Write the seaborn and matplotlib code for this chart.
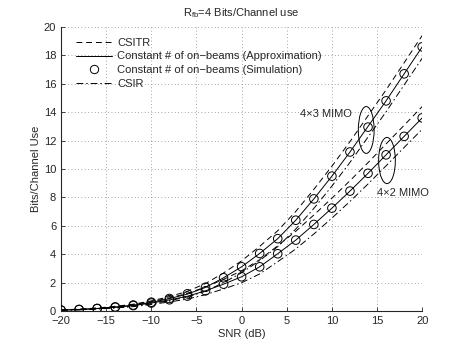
import numpy as np
import pandas as pd
import matplotlib
matplotlib.use("Agg")
import matplotlib.pyplot as plt
from matplotlib.patches import Ellipse
from matplotlib.lines import Line2D
import seaborn as sns

# ==============================================================================
# DADOS
# ==============================================================================
snr_db = [-20, -18, -16, -14, -12, -10, -8, -6, -4, -2, 0,
          2, 4, 6, 8, 10, 12, 14, 16, 18, 20]

mimo43_approx = [0.08, 0.12, 0.19, 0.29, 0.42, 0.62, 0.88, 1.20, 1.67, 2.35, 3.12,
                 4.06, 5.10, 6.40, 7.90, 9.50, 11.20, 13.00, 14.80, 16.70, 18.60]
mimo43_sim = [0.08, 0.12, 0.19, 0.30, 0.43, 0.63, 0.89, 1.22, 1.68, 2.35, 3.12,
              4.06, 5.10, 6.40, 7.90, 9.50, 11.20, 12.95, 14.80, 16.70, 18.60]
mimo43_csitr = [0.09, 0.14, 0.22, 0.34, 0.49, 0.72, 1.02, 1.40, 1.94, 2.69, 3.54,
                4.56, 5.66, 7.02, 8.57, 10.20, 11.93, 13.75, 15.57, 17.48, 19.40]
mimo43_csir = [0.07, 0.10, 0.16, 0.24, 0.35, 0.52, 0.74, 1.00, 1.40, 2.01, 2.70,
               3.56, 4.54, 5.78, 7.23, 8.80, 10.47, 12.25, 14.03, 15.92, 17.80]

mimo42_approx = [0.07, 0.11, 0.18, 0.27, 0.39, 0.57, 0.79, 1.05, 1.43, 1.90, 2.42,
                 3.12, 4.04, 5.00, 6.10, 7.25, 8.45, 9.70, 11.00, 12.30, 13.60]
mimo42_sim = [0.07, 0.11, 0.18, 0.27, 0.39, 0.57, 0.80, 1.06, 1.43, 1.90, 2.42,
              3.12, 4.04, 5.00, 6.10, 7.25, 8.45, 9.70, 11.00, 12.30, 13.60]
mimo42_csitr = [0.08, 0.13, 0.21, 0.32, 0.46, 0.67, 0.93, 1.25, 1.70, 2.24, 2.84,
                3.62, 4.60, 5.62, 6.77, 7.95, 9.18, 10.45, 11.77, 13.08, 14.40]
mimo42_csir = [0.06, 0.09, 0.15, 0.22, 0.32, 0.47, 0.65, 0.85, 1.16, 1.56, 2.00,
               2.62, 3.48, 4.38, 5.43, 6.55, 7.72, 8.95, 10.23, 11.52, 12.80]

LEG_CSITR = "CSITR"
LEG_APPROX = "Constant # of on\u2212beams (Approximation)"
LEG_SIM = "Constant # of on\u2212beams (Simulation)"
LEG_CSIR = "CSIR"

# ==============================================================================
# CONFIGURAÇÕES
# ==============================================================================
sns.set_style("ticks")
plt.rcParams['font.family'] = ['Liberation Sans', 'DejaVu Sans']
plt.rcParams['font.size'] = 8
plt.rcParams['mathtext.fontset'] = 'custom'
plt.rcParams['mathtext.rm'] = 'Liberation Sans'
plt.rcParams['xtick.direction'] = 'in'
plt.rcParams['ytick.direction'] = 'in'

DASH = (0, (6, 4))
DASHDOT = (0, (7, 3, 1.5, 3))


def monta_df():
    linhas = []
    series = [
        ("4x3", LEG_CSITR, mimo43_csitr), ("4x3", LEG_APPROX, mimo43_approx),
        ("4x3", LEG_CSIR, mimo43_csir),
        ("4x2", LEG_CSITR, mimo42_csitr), ("4x2", LEG_APPROX, mimo42_approx),
        ("4x2", LEG_CSIR, mimo42_csir),
    ]
    for cfg, tipo, vals in series:
        for x, y in zip(snr_db, vals):
            linhas.append({'SNR': x, 'Bits': y, 'Tipo': tipo, 'Cfg': cfg})
    return pd.DataFrame(linhas)


df = monta_df()
df_sim = pd.DataFrame({
    'SNR': snr_db + snr_db,
    'Bits': mimo43_sim + mimo42_sim,
    'Cfg': ['4x3'] * len(snr_db) + ['4x2'] * len(snr_db),
})

fig = plt.figure(figsize=(4.66, 3.5), dpi=100)
ax = fig.add_axes([0.131, 0.111, 0.775, 0.812])

estilos = {LEG_CSITR: DASH, LEG_APPROX: '-', LEG_CSIR: DASHDOT}
for tipo, ls in estilos.items():
    sub = df[df['Tipo'] == tipo]
    sns.lineplot(data=sub, x='SNR', y='Bits', units='Cfg', estimator=None,
                 color='black', linewidth=0.7, ax=ax, legend=False)
    # as duas últimas linhas são desse tipo (uma por configuração)
    ax.lines[-1].set_linestyle(ls)
    ax.lines[-2].set_linestyle(ls)

sns.scatterplot(data=df_sim, x='SNR', y='Bits', ax=ax, marker='o', s=38,
                facecolor='none', edgecolor='black', linewidth=0.7, legend=False,
                zorder=3)

# legenda manual
handles = [
    Line2D([], [], color='black', lw=0.7, ls=DASH),
    Line2D([], [], color='black', lw=0.7, ls='-'),
    Line2D([], [], color='black', lw=0, marker='o', mfc='none', mec='black', ms=6, mew=0.7),
    Line2D([], [], color='black', lw=0.7, ls=DASHDOT),
]
ax.legend(handles, [LEG_CSITR, LEG_APPROX, LEG_SIM, LEG_CSIR], loc='upper left',
          frameon=False, fontsize=8, handlelength=3.2, handletextpad=0.5,
          labelspacing=0.35, borderaxespad=0.3, bbox_to_anchor=(0.02, 0.99))

# elipses e anotações
ax.add_patch(Ellipse((13.8, 12.75), 1.75, 3.3, fill=False, color='black', lw=0.7))
ax.add_patch(Ellipse((16.1, 10.6), 1.85, 3.25, fill=False, color='black', lw=0.7))
ax.text(12.2, 13.85, "4\u00d73 MIMO", ha='right', va='center', fontsize=8)
ax.text(15.0, 8.3, "4\u00d72 MIMO", ha='left', va='center', fontsize=8)

ax.set_xlim(-20, 20)
ax.set_ylim(0, 20)
ax.set_xticks(np.arange(-20, 21, 5))
ax.set_yticks(np.arange(0, 21, 2))
ax.grid(True, linestyle=(0, (1, 3)), color='#888888', linewidth=0.6)
ax.tick_params(length=3, width=0.6, labelsize=8)
for s in ['top', 'right']:
    ax.spines[s].set_visible(False)
for s in ['left', 'bottom']:
    ax.spines[s].set_linewidth(0.8)

ax.set_xlabel('SNR (dB)', fontsize=8, labelpad=2)
ax.set_ylabel('Bits/Channel Use', fontsize=8, labelpad=2)
ax.set_title(r'$\mathrm{R_{fb}}$=4 Bits/Channel use', fontsize=8, pad=8)

fig.savefig('out.png', dpi=100)
